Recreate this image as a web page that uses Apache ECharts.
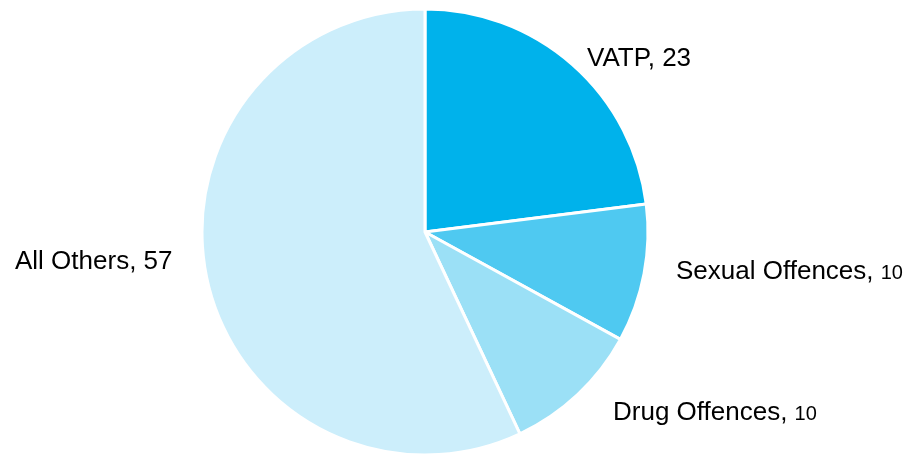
<!DOCTYPE html>
<html>
<head>
<meta charset="utf-8">
<style>
  html, body { margin: 0; padding: 0; background: #ffffff; }
  #chart { width: 915px; height: 456px; }
</style>
<script src="https://cdn.jsdelivr.net/npm/echarts@6/dist/echarts.min.js"></script>
</head>
<body>
<div id="chart"></div>
<script>
// Offence categories and their counts
const categories = ['VATP', 'Sexual Offences', 'Drug Offences', 'All Others'];
const values = [23, 10, 10, 57];
const colors = ['#00B2EB', '#4FC9F1', '#9BE0F6', '#CCEEFB'];

// Label anchor points (left edge, vertical middle) for each slice
const labelSpots = [
  { x: 587, y: 59 },
  { x: 676, y: 272 },
  { x: 613, y: 413 },
  { x: 15, y: 262 }
];

const chart = echarts.init(document.getElementById('chart'), null, { renderer: 'canvas' });

chart.setOption({
  animation: false,
  backgroundColor: '#ffffff',
  series: [{
    type: 'pie',
    center: [425, 232],
    radius: [0, 223],
    startAngle: 90,
    clockwise: true,
    avoidLabelOverlap: false,
    itemStyle: { borderColor: '#ffffff', borderWidth: 3 },
    label: {
      show: true,
      position: 'outside',
      fontFamily: 'Liberation Sans, Arial, sans-serif',
      fontSize: 26,
      lineHeight: 30,
      color: '#000000',
      formatter: function (p) {
        return p.value >= 20 ? p.name + ', ' + p.value : '{m|' + p.name + ', }{s|' + p.value + '}';
      },
      rich: {
        m: { fontFamily: 'Liberation Sans, Arial, sans-serif', fontSize: 26, lineHeight: 30, color: '#000000' },
        // smaller figure after the name, nudged onto the shared baseline
        s: { fontFamily: 'Liberation Sans, Arial, sans-serif', fontSize: 20, lineHeight: 30, padding: [2, 0, 0, 0], color: '#000000' }
      }
    },
    labelLine: { show: false },
    labelLayout: function (params) {
      const s = labelSpots[params.dataIndex];
      return { x: s.x, y: s.y, align: 'left', verticalAlign: 'middle' };
    },
    emphasis: { disabled: true },
    data: categories.map(function (c, i) {
      return { name: c, value: values[i], itemStyle: { color: colors[i] } };
    })
  }]
});
</script>
</body>
</html>
